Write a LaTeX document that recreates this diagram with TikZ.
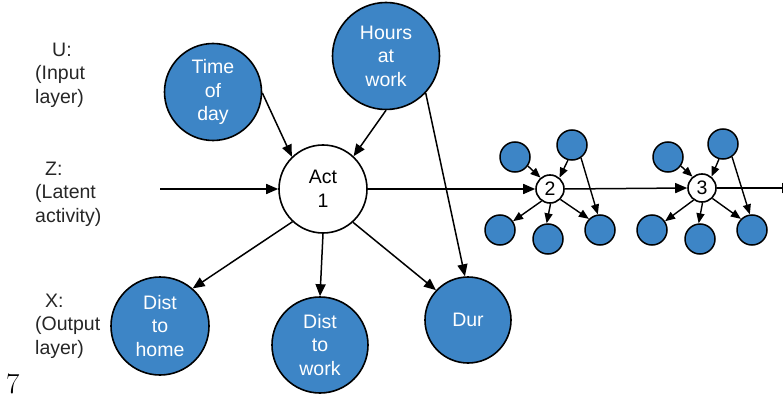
\documentclass[tikz,border=0pt]{standalone}
\usepackage{fontspec}
\newfontfamily\arialf{Liberation Sans}
\usetikzlibrary{arrows.meta}
\definecolor{nodeblue}{HTML}{3D85C6}
\begin{document}
\begin{tikzpicture}[x=1pt,y=-1pt,
  txt/.style={font=\arialf\fontsize{19.5}{23.5}\selectfont},
  bignode/.style={circle,draw=black,line width=1.6pt,fill=nodeblue,text=white,
    txt,align=center,inner sep=0pt,minimum size=#1},
  actnode/.style={circle,draw=black,line width=1.6pt,fill=white,
    txt,align=center,inner sep=0pt,minimum size=#1},
  smallnode/.style={circle,draw=black,line width=1.5pt,fill=nodeblue,inner sep=0pt,minimum size=30pt},
  bigarr/.style={line width=1.5pt,-{Triangle[length=12pt,width=10pt]}},
  smallarr/.style={line width=1.4pt,-{Triangle[length=10pt,width=8pt]}},
  lbl/.style={txt,align=left,text=black!85,inner sep=0pt}
]
\useasboundingbox (0,0) rectangle (783,398);

% layer labels
\node[lbl,anchor=west] (lu) at (35,75) {\hspace*{17pt}U:\\(Input\\layer)};
\node[lbl,anchor=west] (lz) at (35,194) {\hspace*{10pt}Z:\\(Latent\\activity)};
\node[lbl,anchor=west] (lx) at (35,326) {\hspace*{10pt}X:\\(Output\\layer)};
\node[anchor=base west,inner sep=0pt,font=\fontsize{29}{30}\selectfont] (pg) at (6,393) {7};

% main nodes
\node[bignode=97pt] (time) at (213,92) {Time\\of\\day};
\node[bignode=107pt] (hours) at (386,56) {Hours\\at\\work};
\node[actnode=88pt] (act) at (323,189) {Act\\1};
\node[bignode=98pt] (home) at (160,326) {Dist\\to\\home};
\node[bignode=96pt] (work) at (320,345) {Dist\\to\\work};
\node[bignode=86pt] (dur) at (468,320) {Dur};

\coordinate (in) at (160,189);
\draw[bigarr] (in) -- (act.west);
\draw[bigarr] (time.-1) -- (act.134);
\draw[bigarr] (hours.-90) -- (act.47);
\draw[bigarr] (hours.-43) -- (dur.94);
\draw[bigarr] (act.-133) -- (home.49);
\draw[bigarr] (act.-90) -- (work.90);
\draw[bigarr] (act.-48) -- (dur.137);

% activity 2
\node[actnode=28pt] (n2) at (550,189) {2};
\node[smallnode] (ul2) at (515,157) {};
\node[smallnode] (ur2) at (572,145) {};
\node[smallnode] (ll2) at (500,230) {};
\node[smallnode] (lm2) at (548,239) {};
\node[smallnode] (lr2) at (600,230) {};
\draw[bigarr] (act.east) -- (n2.west);
\draw[smallarr] (ul2.-35) -- (n2.130);
\draw[smallarr] (ur2.-105) -- (n2.50);
\draw[smallarr] (ur2.-55) -- (lr2.98);
\draw[smallarr] (n2.-125) -- (ll2.34);
\draw[smallarr] (n2.-88) -- (lm2.95);
\draw[smallarr] (n2.-45) -- (lr2.135);

% activity 3
\node[actnode=28pt] (n3) at (702,188) {3};
\node[smallnode] (ul3) at (668,157) {};
\node[smallnode] (ur3) at (723,144) {};
\node[smallnode] (ll3) at (652,230) {};
\node[smallnode] (lm3) at (700,239) {};
\node[smallnode] (lr3) at (752,230) {};
\draw[bigarr] (n2.east) -- (n3.west);
\draw[smallarr] (ul3.-35) -- (n3.130);
\draw[smallarr] (ur3.-105) -- (n3.50);
\draw[smallarr] (ur3.-55) -- (lr3.98);
\draw[smallarr] (n3.-125) -- (ll3.34);
\draw[smallarr] (n3.-88) -- (lm3.95);
\draw[smallarr] (n3.-45) -- (lr3.135);
\coordinate (out) at (794,188);
\draw[bigarr] (n3.east) -- (out);
\end{tikzpicture}
\end{document}
